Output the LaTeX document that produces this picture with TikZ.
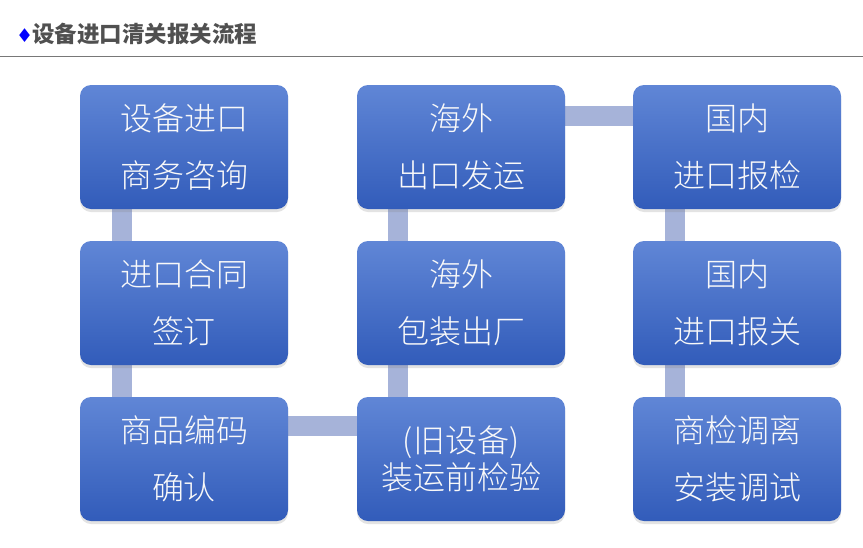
\documentclass[tikz,border=0pt]{standalone}
\usepackage{fontspec}
\newfontfamily\cjk{Noto Sans CJK SC}
\newfontfamily\cjklight{Noto Sans CJK SC Light}
\newfontfamily\dejavu{DejaVu Sans}
\usetikzlibrary{shadows,backgrounds}
\definecolor{boxtop}{RGB}{96,134,214}
\definecolor{boxbot}{RGB}{50,92,186}
\definecolor{conn}{RGB}{166,179,217}
\definecolor{titlegray}{RGB}{80,80,80}
\definecolor{rulegray}{RGB}{120,120,120}
\pgfdeclarelayer{bg}
\pgfsetlayers{bg,background,main}
\tikzset{
  stepbox/.style={rectangle, rounded corners=11pt, minimum width=208pt, minimum height=124pt,
    inner sep=0pt, top color=boxtop, bottom color=boxbot, draw=none,
    drop shadow={shadow xshift=0pt, shadow yshift=-3pt, opacity=0.22},
    text=white!95!gray, align=center, font=\cjklight\fontsize{32}{57}\selectfont},
  tightbox/.style={stepbox, font=\cjklight\fontsize{32}{37}\selectfont},
  link/.style={conn, line width=20pt}
}
\begin{document}
\begin{tikzpicture}[x=1pt,y=-1pt]
\begin{pgfonlayer}{bg}
\fill[white] (0,0) rectangle (863,547);
\end{pgfonlayer}
\useasboundingbox (0,0) rectangle (863,547);
% title
\node[anchor=base west, inner sep=0pt, text=titlegray, font=\cjk\bfseries\fontsize{22.5}{26}\selectfont] (title) at (16,42)
  {{\dejavu\color{blue}\fontsize{19}{20}\selectfont ♦}\kern-1pt 设备进口清关报关流程};
\coordinate (ruleL) at (0,56.5);
\coordinate (ruleR) at (863,56.5);
\draw[rulegray, line width=1pt] (ruleL) -- (ruleR);
% boxes
\node[stepbox] (a1) at (184,147) {设备进口\\商务咨询};
\node[stepbox] (a2) at (184,303) {进口合同\\签订};
\node[stepbox] (a3) at (184,459) {商品编码\\确认};
\node[stepbox] (b1) at (461,147) {海外\\出口发运};
\node[stepbox] (b2) at (461,303) {海外\\包装出厂};
\node[tightbox] (b3) at (461,459) {(旧设备)\\装运前检验};
\node[stepbox] (c1) at (737,147) {国内\\进口报检};
\node[stepbox] (c2) at (737,303) {国内\\进口报关};
\node[stepbox] (c3) at (737,459) {商检调离\\安装调试};
% connectors
\begin{pgfonlayer}{background}
\draw[link] ([xshift=42pt]a1.south west) -- ([xshift=42pt]a2.north west);
\draw[link] ([xshift=42pt]a2.south west) -- ([xshift=42pt]a3.north west);
\draw[link] ([yshift=-29.5pt]a3.north east) -- ([yshift=-29.5pt]b3.north west);
\draw[link] ([xshift=41pt]b3.north west) -- ([xshift=41pt]b2.south west);
\draw[link] ([xshift=41pt]b2.north west) -- ([xshift=41pt]b1.south west);
\draw[link] ([yshift=-31.5pt]b1.north east) -- ([yshift=-31.5pt]c1.north west);
\draw[link] ([xshift=42pt]c1.south west) -- ([xshift=42pt]c2.north west);
\draw[link] ([xshift=42pt]c2.south west) -- ([xshift=42pt]c3.north west);
\end{pgfonlayer}
\end{tikzpicture}
\end{document}
